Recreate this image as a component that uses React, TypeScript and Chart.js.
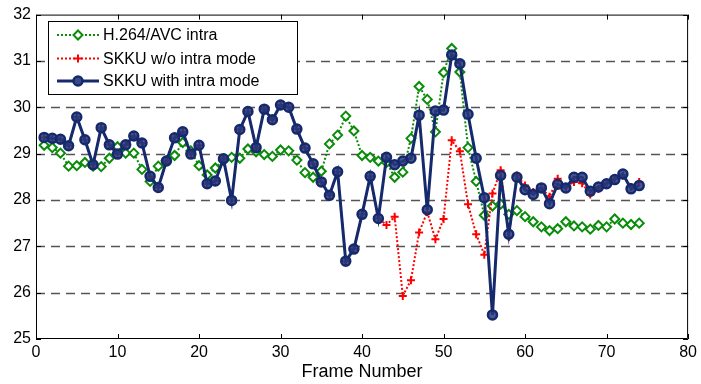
import React, { useEffect, useRef } from "react";
import { Chart, registerables } from "chart.js";

Chart.register(...registerables);

const frames: number[] = Array.from({ length: 74 }, (_, i) => i + 1);

const h264Intra: number[] = [
  29.18, 29.13, 29.01, 28.73, 28.74, 28.81, 28.73, 28.72, 28.9, 29.15,
  29.01, 29.01, 28.66, 28.4, 28.73, 28.85, 28.96, 29.24, 29.06, 28.74,
  28.54, 28.69, 28.85, 28.92, 28.9, 29.1, 29.04, 28.98, 28.94, 29.08,
  29.06, 28.86, 28.59, 28.49, 28.62, 29.21, 29.4, 29.81, 29.49, 28.96,
  28.92, 28.84, 28.81, 28.49, 28.6, 29.33, 30.45, 30.17, 29.47, 30.75,
  31.27, 30.76, 29.13, 28.4, 27.67, 27.87, 27.91, 27.69, 27.77, 27.64,
  27.53, 27.42, 27.34, 27.38, 27.53, 27.44, 27.42, 27.37, 27.45, 27.42,
  27.59, 27.5, 27.47, 27.5,
];

const skkuWith: number[] = [
  29.35, 29.33, 29.31, 29.17, 29.79, 29.3, 28.76, 29.56, 29.19, 28.99,
  29.19, 29.38, 29.23, 28.51, 28.27, 28.84, 29.34, 29.47, 28.99, 29.18,
  28.35, 28.41, 28.89, 27.99, 29.52, 29.91, 29.13, 29.96, 29.73, 30.05,
  30.0, 29.53, 29.12, 28.78, 28.39, 28.1, 28.61, 26.68, 26.94, 27.69,
  28.51, 27.6, 28.92, 28.76, 28.84, 28.9, 29.83, 27.79, 29.92, 29.94,
  31.13, 30.94, 29.85, 28.9, 28.05, 25.52, 28.53, 27.26, 28.49, 28.22,
  28.12, 28.26, 27.92, 28.34, 28.26, 28.49, 28.49, 28.19, 28.28, 28.35,
  28.44, 28.56, 28.24, 28.31,
];

const skkuWithout: number[] = [
  29.35, 29.33, 29.31, 29.17, 29.79, 29.3, 28.76, 29.56, 29.19, 28.99,
  29.19, 29.38, 29.23, 28.51, 28.27, 28.84, 29.34, 29.47, 28.99, 29.18,
  28.35, 28.41, 28.89, 27.99, 29.52, 29.91, 29.13, 29.96, 29.73, 30.05,
  30.0, 29.53, 29.12, 28.78, 28.39, 28.1, 28.61, 26.68, 26.94, 27.69,
  28.51, 27.6, 27.46, 27.64, 25.93, 26.27, 27.3, 27.74, 27.15, 27.59,
  29.29, 29.05, 27.91, 27.26, 26.82, 28.14, 28.64, 27.2, 28.53, 28.31,
  28.17, 28.26, 28.07, 28.46, 28.28, 28.39, 28.36, 28.12, 28.24, 28.36,
  28.46, 28.53, 28.28, 28.39,
];

const seriesNames: string[] = [
  "H.264/AVC intra",
  "SKKU w/o intra mode",
  "SKKU with intra mode",
];

const xTicks: number[] = [0, 10, 20, 30, 40, 50, 60, 70, 80];
const yTicks: number[] = [25, 26, 27, 28, 29, 30, 31, 32];

const GREEN = "#0a8c0a";
const RED = "#ff0000";
const NAVY = "#15296d";
const FONT = "'Liberation Sans', Arial, sans-serif";

const gridPlugin = {
  id: "dashGrid",
  beforeDatasetsDraw(chart: any) {
    const { ctx, chartArea } = chart;
    const { left, right } = chartArea;
    const ys = chart.scales.y;
    ctx.save();
    ctx.strokeStyle = "#555";
    ctx.lineWidth = 1.3;
    ctx.setLineDash([9, 6]);
    yTicks.forEach((v) => {
      if (v === 25 || v === 32) return;
      const py = Math.round(ys.getPixelForValue(v)) + 0.5;
      ctx.beginPath();
      ctx.moveTo(left, py);
      ctx.lineTo(right, py);
      ctx.stroke();
    });
    ctx.restore();
  },
};

const framePlugin = {
  id: "matlabFrame",
  afterDraw(chart: any) {
    const { ctx, chartArea } = chart;
    const { left, right, top, bottom } = chartArea;
    const xs = chart.scales.x;
    const ys = chart.scales.y;
    ctx.save();
    ctx.strokeStyle = "#000";
    ctx.lineWidth = 1;
    ctx.beginPath();
    ctx.rect(left + 0.5, top + 0.5, right - left - 1, bottom - top - 1);
    ctx.stroke();
    ctx.beginPath();
    xTicks.forEach((v) => {
      const px = Math.round(xs.getPixelForValue(v)) + 0.5;
      ctx.moveTo(px, bottom);
      ctx.lineTo(px, bottom - 5);
      ctx.moveTo(px, top);
      ctx.lineTo(px, top + 5);
    });
    yTicks.forEach((v) => {
      const py = Math.round(ys.getPixelForValue(v)) + 0.5;
      ctx.moveTo(left, py);
      ctx.lineTo(left + 5, py);
      ctx.moveTo(right, py);
      ctx.lineTo(right - 5, py);
    });
    ctx.stroke();

    const bx = 48.5, by = 21.5, bw = 249, bh = 73;
    ctx.fillStyle = "#fff";
    ctx.fillRect(bx, by, bw, bh);
    ctx.strokeStyle = "#000";
    ctx.lineWidth = 1;
    ctx.strokeRect(bx, by, bw, bh);
    const rows = [35, 58.5, 81];
    const x0 = 57, x1 = 99, xm = 78;
    ctx.font = `16px ${FONT}`;
    ctx.textBaseline = "middle";
    ctx.textAlign = "left";
    rows.forEach((ry, i) => {
      ctx.save();
      if (i === 0) {
        ctx.strokeStyle = GREEN;
        ctx.lineWidth = 2;
        ctx.setLineDash([2, 2]);
      } else if (i === 1) {
        ctx.strokeStyle = RED;
        ctx.lineWidth = 2;
        ctx.setLineDash([2, 2]);
      } else {
        ctx.strokeStyle = NAVY;
        ctx.lineWidth = 3;
      }
      ctx.beginPath();
      ctx.moveTo(x0, ry);
      ctx.lineTo(x1, ry);
      ctx.stroke();
      ctx.setLineDash([]);
      if (i === 0) {
        ctx.lineWidth = 2;
        ctx.fillStyle = "#fff";
        ctx.beginPath();
        ctx.moveTo(xm, ry - 4.5);
        ctx.lineTo(xm + 4.5, ry);
        ctx.lineTo(xm, ry + 4.5);
        ctx.lineTo(xm - 4.5, ry);
        ctx.closePath();
        ctx.fill();
        ctx.stroke();
      } else if (i === 1) {
        ctx.lineWidth = 2;
        ctx.beginPath();
        ctx.moveTo(xm - 4, ry);
        ctx.lineTo(xm + 4, ry);
        ctx.moveTo(xm, ry - 4);
        ctx.lineTo(xm, ry + 4);
        ctx.stroke();
      } else {
        ctx.lineWidth = 2.5;
        ctx.beginPath();
        ctx.arc(xm, ry, 4.5, 0, Math.PI * 2);
        ctx.fillStyle = "#3a4a88";
        ctx.fill();
        ctx.stroke();
      }
      ctx.restore();
      ctx.fillStyle = "#000";
      ctx.fillText(seriesNames[i], 103, ry + 1);
    });
    ctx.restore();
  },
};

export default function App() {
  const ref = useRef<HTMLCanvasElement | null>(null);
  useEffect(() => {
    document.body.style.margin = "0";
    const canvas = ref.current;
    if (!canvas) return;
    const mk = (arr: number[]) => frames.map((f, i) => ({ x: f, y: arr[i] }));
    const chart = new Chart(canvas, {
      type: "line",
      data: {
        datasets: [
          {
            label: seriesNames[2],
            data: mk(skkuWith),
            borderColor: NAVY,
            borderWidth: 3,
            pointStyle: "circle",
            pointRadius: 4.5,
            pointBorderWidth: 2.5,
            pointBorderColor: NAVY,
            pointBackgroundColor: "rgba(40,58,125,0.85)",
            tension: 0,
            order: 0,
          },
          {
            label: seriesNames[1],
            data: mk(skkuWithout),
            borderColor: RED,
            borderWidth: 2,
            borderDash: [2, 2],
            pointStyle: "cross",
            pointRadius: 4,
            pointBorderWidth: 2,
            pointBorderColor: RED,
            tension: 0,
            order: 1,
          },
          {
            label: seriesNames[0],
            data: mk(h264Intra),
            borderColor: GREEN,
            borderWidth: 2,
            borderDash: [2, 2],
            pointStyle: "rectRot",
            pointRadius: 4.5,
            pointBorderWidth: 2,
            pointBorderColor: GREEN,
            pointBackgroundColor: "#fff",
            tension: 0,
            order: 2,
          },
        ],
      },
      options: {
        animation: false,
        responsive: false,
        maintainAspectRatio: false,
        layout: { padding: { top: 12, right: 11, left: 0, bottom: 0 } },
        plugins: { legend: { display: false }, tooltip: { enabled: false } },
        scales: {
          x: {
            type: "linear",
            min: 0,
            max: 80,
            afterFit: (s: any) => { s.height = 45; },
            afterBuildTicks: (s: any) => { s.ticks = xTicks.map((v) => ({ value: v })); },
            grid: { display: false, drawTicks: false },
            border: { display: false },
            ticks: { color: "#000", font: { size: 16, family: FONT }, padding: 4, maxRotation: 0, autoSkip: false },
            title: { display: true, text: "Frame Number", color: "#000", font: { size: 18, family: FONT }, padding: { top: 0, bottom: 1 } },
          },
          y: {
            type: "linear",
            min: 25,
            max: 32,
            afterFit: (s: any) => { s.width = 36; },
            afterBuildTicks: (s: any) => { s.ticks = yTicks.map((v) => ({ value: v })); },
            grid: { display: false, drawTicks: false },
            border: { display: false },
            ticks: { color: "#000", font: { size: 16, family: FONT }, padding: 5, autoSkip: false },
          },
        },
      },
      plugins: [gridPlugin, framePlugin],
    } as any);
    return () => chart.destroy();
  }, []);
  return (
    <div style={{ width: 701, height: 384, background: "#fff" }}>
      <canvas ref={ref} width={701} height={384} style={{ display: "block" }} />
    </div>
  );
}
